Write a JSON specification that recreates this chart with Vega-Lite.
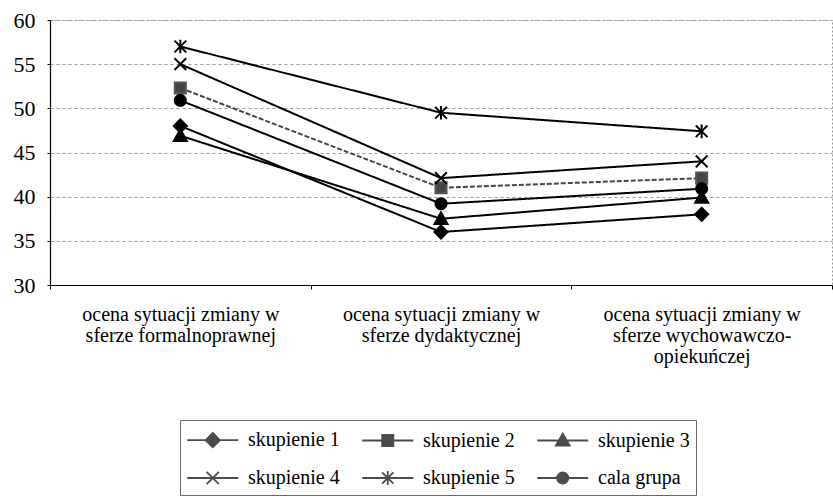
{
  "$schema": "https://vega.github.io/schema/vega-lite/v6.json",
  "width": 782,
  "height": 265,
  "autosize": {"type": "none"},
  "padding": {"left": 50, "top": 20, "right": 1, "bottom": 212},
  "background": "white",
  "config": {
    "font": "Liberation Serif",
    "view": {"stroke": "#999", "strokeDash": [2, 2], "strokeWidth": 1}
  },
  "data": {
    "values": [
      {"kategoria": "ocena sytuacji zmiany w|sferze formalnoprawnej", "seria": "skupienie 1", "wartosc": 48.0},
      {"kategoria": "ocena sytuacji zmiany w|sferze formalnoprawnej", "seria": "skupienie 2", "wartosc": 52.3},
      {"kategoria": "ocena sytuacji zmiany w|sferze formalnoprawnej", "seria": "skupienie 3", "wartosc": 46.9},
      {"kategoria": "ocena sytuacji zmiany w|sferze formalnoprawnej", "seria": "skupienie 4", "wartosc": 55.0},
      {"kategoria": "ocena sytuacji zmiany w|sferze formalnoprawnej", "seria": "skupienie 5", "wartosc": 57.0},
      {"kategoria": "ocena sytuacji zmiany w|sferze formalnoprawnej", "seria": "cala grupa", "wartosc": 50.9},
      {"kategoria": "ocena sytuacji zmiany w|sferze dydaktycznej", "seria": "skupienie 1", "wartosc": 36.0},
      {"kategoria": "ocena sytuacji zmiany w|sferze dydaktycznej", "seria": "skupienie 2", "wartosc": 41.0},
      {"kategoria": "ocena sytuacji zmiany w|sferze dydaktycznej", "seria": "skupienie 3", "wartosc": 37.5},
      {"kategoria": "ocena sytuacji zmiany w|sferze dydaktycznej", "seria": "skupienie 4", "wartosc": 42.1},
      {"kategoria": "ocena sytuacji zmiany w|sferze dydaktycznej", "seria": "skupienie 5", "wartosc": 49.5},
      {"kategoria": "ocena sytuacji zmiany w|sferze dydaktycznej", "seria": "cala grupa", "wartosc": 39.2},
      {"kategoria": "ocena sytuacji zmiany w|sferze wychowawczo-|opiekuńczej", "seria": "skupienie 1", "wartosc": 38.0},
      {"kategoria": "ocena sytuacji zmiany w|sferze wychowawczo-|opiekuńczej", "seria": "skupienie 2", "wartosc": 42.1},
      {"kategoria": "ocena sytuacji zmiany w|sferze wychowawczo-|opiekuńczej", "seria": "skupienie 3", "wartosc": 39.9},
      {"kategoria": "ocena sytuacji zmiany w|sferze wychowawczo-|opiekuńczej", "seria": "skupienie 4", "wartosc": 44.0},
      {"kategoria": "ocena sytuacji zmiany w|sferze wychowawczo-|opiekuńczej", "seria": "skupienie 5", "wartosc": 47.4},
      {"kategoria": "ocena sytuacji zmiany w|sferze wychowawczo-|opiekuńczej", "seria": "cala grupa", "wartosc": 40.9}
    ]
  },
  "encoding": {
    "x": {
      "field": "kategoria",
      "type": "nominal",
      "sort": null,
      "scale": {"type": "band", "paddingInner": 0, "paddingOuter": 0},
      "axis": {
        "title": null,
        "labelAngle": 0,
        "labelExpr": "split(datum.label, '|')",
        "labelFont": "Liberation Serif",
        "labelFontSize": 20,
        "labelLineHeight": 21,
        "labelColor": "black",
        "labelPadding": 15,
        "labelLimit": 0,
        "tickBand": "extent",
        "tickSize": 4,
        "tickColor": "black",
        "domainColor": "black",
        "domainWidth": 1.2,
        "grid": false
      }
    },
    "y": {
      "field": "wartosc",
      "type": "quantitative",
      "scale": {"domain": [30, 60], "nice": false, "zero": false},
      "axis": {
        "title": null,
        "values": [30, 35, 40, 45, 50, 55, 60],
        "labelFont": "Liberation Serif",
        "labelFontSize": 22,
        "labelColor": "black",
        "labelPadding": 12,
        "tickSize": 3,
        "tickColor": "black",
        "domainColor": "black",
        "domainWidth": 1.2,
        "grid": true,
        "gridColor": "#999",
        "gridDash": [3, 3],
        "gridWidth": 1
      }
    }
  },
  "resolve": {"scale": {"shape": "independent"}, "legend": {"shape": "independent"}},
  "layer": [
    {
      "mark": {"type": "line", "strokeWidth": 2},
      "encoding": {
        "color": {
          "field": "seria",
          "type": "nominal",
          "scale": {
            "domain": ["skupienie 1", "skupienie 2", "skupienie 3", "skupienie 4", "skupienie 5", "cala grupa"],
            "range": ["black", "#444", "black", "black", "black", "black"]
          },
          "legend": null
        },
        "strokeDash": {
          "field": "seria",
          "type": "nominal",
          "scale": {
            "domain": ["skupienie 1", "skupienie 2", "skupienie 3", "skupienie 4", "skupienie 5", "cala grupa"],
            "range": [[1, 0], [5, 2], [1, 0], [1, 0], [1, 0], [1, 0]]
          },
          "legend": null
        }
      }
    },
    {
      "mark": {"type": "point", "filled": true, "strokeWidth": 2, "opacity": 1, "size": 170},
      "encoding": {
        "color": {"field": "seria", "type": "nominal", "legend": null},
        "stroke": {"field": "seria", "type": "nominal", "legend": null,
          "scale": {
            "domain": ["skupienie 1", "skupienie 2", "skupienie 3", "skupienie 4", "skupienie 5", "cala grupa"],
            "range": ["black", "#555", "black", "black", "black", "black"]
          }
        },
        "shape": {
          "field": "seria",
          "type": "nominal",
          "legend": null,
          "scale": {
            "domain": ["skupienie 1", "skupienie 2", "skupienie 3", "skupienie 4", "skupienie 5", "cala grupa"],
            "range": [
              "M0,-1L1,0L0,1L-1,0Z",
              "M-0.85,-0.85L0.85,-0.85L0.85,0.85L-0.85,0.85Z",
              "M0,-1L1,0.8L-1,0.8Z",
              "M-0.9,-0.9L0.9,0.9M-0.9,0.9L0.9,-0.9",
              "M-0.9,-0.9L0.9,0.9M-0.9,0.9L0.9,-0.9M0,-1.05L0,1.05",
              "M0.85,0A0.85,0.85 0 1,1 -0.85,0A0.85,0.85 0 1,1 0.85,0Z"
            ]
          }
        }
      }
    },
    {
      "transform": [{"filter": "false"}],
      "mark": {"type": "point", "filled": true, "strokeWidth": 1.8, "fill": "black", "stroke": "black"},
      "encoding": {
        "shape": {
          "field": "seria",
          "type": "nominal",
          "scale": {
            "domain": ["skupienie 1", "skupienie 2", "skupienie 3", "skupienie 4", "skupienie 5", "cala grupa"],
            "range": [
              "M-1,0L3,0M1,-0.56L1.56,0L1,0.56L0.44,0Z",
              "M-1,0L3,0M0.56,-0.44L1.44,-0.44L1.44,0.44L0.56,0.44Z",
              "M-1,0L3,0M1,-0.54L1.54,0.4L0.46,0.4Z",
              "M-1,0L3,0M0.52,-0.48L1.48,0.48M0.52,0.48L1.48,-0.48",
              "M-1,0L3,0M0.56,-0.44L1.44,0.44M0.56,0.44L1.44,-0.44M1,-0.54L1,0.54",
              "M-1,0L3,0M1.44,0A0.44,0.44 0 1,1 0.56,0A0.44,0.44 0 1,1 1.44,0Z"
            ]
          },
          "legend": {
            "title": null,
            "orient": "none",
            "legendX": 130,
            "legendY": 400,
            "direction": "horizontal",
            "columns": 3,
            "columnPadding": 18,
            "rowPadding": 13,
            "padding": 6,
            "strokeColor": "#666",
            "symbolSize": 650,
            "symbolStrokeWidth": 1.8,
            "labelFont": "Liberation Serif",
            "labelFontSize": 20,
            "labelColor": "black",
            "labelOffset": 34,
            "labelLimit": 0,
            "encode": {
              "symbols": {
                "update": {
                  "fill": {"signal": "datum.value === 'skupienie 2' ? '#666' : 'black'"},
                  "stroke": {"signal": "datum.value === 'skupienie 2' ? '#555' : 'black'"},
                  "opacity": {"value": 1}
                }
              }
            }
          }
        }
      }
    }
  ]
}
